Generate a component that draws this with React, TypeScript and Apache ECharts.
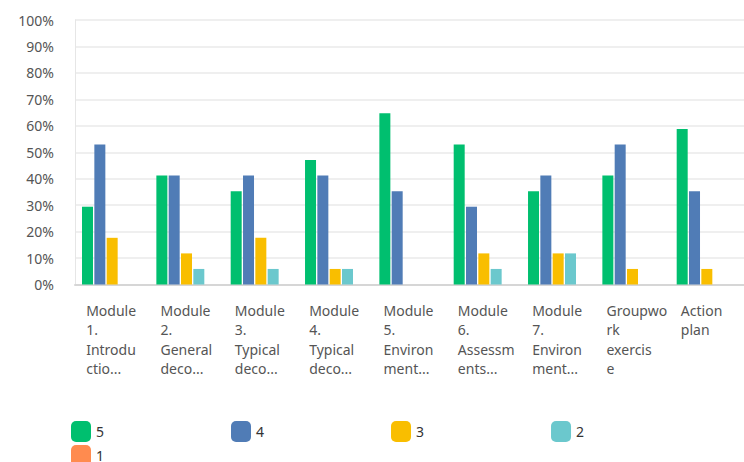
import React, { useEffect, useRef } from "react";
import * as echarts from "echarts";

const categories = [
  "Module\n1.\nIntrodu\nctio...",
  "Module\n2.\nGeneral\ndeco...",
  "Module\n3.\nTypical\ndeco...",
  "Module\n4.\nTypical\ndeco...",
  "Module\n5.\nEnviron\nment...",
  "Module\n6.\nAssessm\nents...",
  "Module\n7.\nEnviron\nment...",
  "Groupwo\nrk\nexercis\ne",
  "Action\nplan",
];

// Share of respondents (%) giving each rating
const rating5 = [29.41, 41.18, 35.29, 47.06, 64.71, 52.94, 35.29, 41.18, 58.82];
const rating4 = [52.94, 41.18, 41.18, 41.18, 35.29, 29.41, 41.18, 52.94, 35.29];
const rating3 = [17.65, 11.76, 17.65, 5.88, 0, 11.76, 11.76, 5.88, 5.88];
const rating2 = [0, 5.88, 5.88, 5.88, 0, 5.88, 11.76, 0, 0];
const rating1 = [0, 0, 0, 0, 0, 0, 0, 0, 0];

const yTicks = [0, 10, 20, 30, 40, 50, 60, 70, 80, 90, 100];

const seriesNames = ["5", "4", "3", "2", "1"];
const seriesData = [rating5, rating4, rating3, rating2, rating1];
const colors = ["#00BF6F", "#507CB6", "#F9BE00", "#6BC8CD", "#FF8B4F"];

const FONT = "'Noto Sans', 'Open Sans', sans-serif";

export default function App() {
  const ref = useRef<HTMLDivElement>(null);

  useEffect(() => {
    if (!ref.current) return;
    const chart = echarts.init(ref.current, undefined, { renderer: "svg" });
    const legendText = { fontSize: 14, color: "#333", fontFamily: FONT };
    chart.setOption({
      animation: false,
      color: colors,
      grid: { left: 75, right: -11, top: 20, height: 264.5, containLabel: false },
      legend: [
        {
          data: ["5", "4", "3", "2"],
          left: 66,
          top: 416,
          orient: "horizontal",
          icon: "roundRect",
          itemWidth: 20,
          itemHeight: 21,
          itemGap: 127,
          textStyle: legendText,
          selectedMode: false,
        },
        {
          data: ["1"],
          left: 66,
          top: 440,
          orient: "horizontal",
          icon: "roundRect",
          itemWidth: 20,
          itemHeight: 21,
          textStyle: legendText,
          selectedMode: false,
        },
      ],
      xAxis: {
        type: "category",
        data: categories,
        axisLine: { show: true, lineStyle: { color: "#d6d6d6", width: 2 } },
        axisTick: { show: false },
        axisLabel: {
          interval: 0,
          align: "left",
          padding: [0, 0, 0, -26],
          margin: 16,
          fontSize: 14,
          lineHeight: 19.5,
          color: "#555",
          fontFamily: FONT,
        },
      },
      yAxis: {
        type: "value",
        min: 0,
        max: 100,
        interval: 10,
        axisLine: { show: true, lineStyle: { color: "#e6e6e6", width: 1 } },
        axisTick: { show: false },
        splitLine: { lineStyle: { color: "#efefef", width: 2 } },
        axisLabel: {
          margin: 21,
          fontSize: 14,
          color: "#555",
          fontFamily: FONT,
          formatter: (v: number) => (yTicks.includes(v) ? `${v}%` : ""),
        },
      },
      series: seriesNames.map((name, i) => ({
        name,
        type: "bar",
        data: seriesData[i],
        barWidth: 11,
        barGap: "12%",
        itemStyle: { color: colors[i] },
      })),
    });
    return () => chart.dispose();
  }, []);

  return (
    <div
      ref={ref}
      style={{ position: "fixed", left: 0, top: 0, width: 744, height: 462, background: "#fff" }}
    />
  );
}
